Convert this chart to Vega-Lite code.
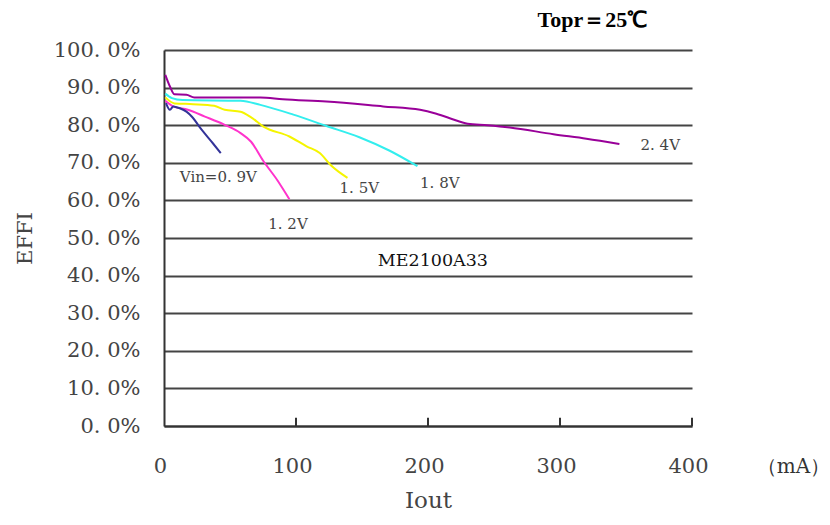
{
  "$schema": "https://vega.github.io/schema/vega-lite/v6.json",
  "width": 528,
  "height": 376,
  "autosize": "none",
  "padding": {"left": 164, "top": 50, "right": 138, "bottom": 99},
  "background": "white",
  "config": {
    "view": {"stroke": null},
    "axis": {"labelFont": "DejaVu Serif", "titleFont": "DejaVu Serif", "labelColor": "#444", "titleColor": "#444", "titleFontWeight": "normal"}
  },
  "datasets": {
    "curves": [
      {"s": "2.4V", "I": 1, "E": 93.4}, {"s": "2.4V", "I": 4.5, "E": 90.3}, {"s": "2.4V", "I": 8, "E": 88.2}, {"s": "2.4V", "I": 17, "E": 88.1}, {"s": "2.4V", "I": 23, "E": 87.4}, {"s": "2.4V", "I": 73, "E": 87.4}, {"s": "2.4V", "I": 90, "E": 86.9}, {"s": "2.4V", "I": 123, "E": 86.3}, {"s": "2.4V", "I": 166, "E": 85.0}, {"s": "2.4V", "I": 194, "E": 84.1}, {"s": "2.4V", "I": 205, "E": 83.2}, {"s": "2.4V", "I": 217, "E": 81.8}, {"s": "2.4V", "I": 230, "E": 80.4}, {"s": "2.4V", "I": 245, "E": 80.0}, {"s": "2.4V", "I": 262, "E": 79.4}, {"s": "2.4V", "I": 295, "E": 77.6}, {"s": "2.4V", "I": 320, "E": 76.4}, {"s": "2.4V", "I": 345, "E": 75.0},
      {"s": "1.8V", "I": 1, "E": 88.4}, {"s": "1.8V", "I": 6, "E": 87.2}, {"s": "1.8V", "I": 14, "E": 86.7}, {"s": "1.8V", "I": 58, "E": 86.5}, {"s": "1.8V", "I": 73, "E": 85.4}, {"s": "1.8V", "I": 98, "E": 82.8}, {"s": "1.8V", "I": 123, "E": 79.8}, {"s": "1.8V", "I": 148, "E": 76.8}, {"s": "1.8V", "I": 171, "E": 73.2}, {"s": "1.8V", "I": 192, "E": 69.1},
      {"s": "1.5V", "I": 1, "E": 87.4}, {"s": "1.5V", "I": 8, "E": 85.8}, {"s": "1.5V", "I": 22, "E": 85.6}, {"s": "1.5V", "I": 38, "E": 85.2}, {"s": "1.5V", "I": 46, "E": 84.1}, {"s": "1.5V", "I": 58, "E": 83.6}, {"s": "1.5V", "I": 66, "E": 82.1}, {"s": "1.5V", "I": 75, "E": 79.7}, {"s": "1.5V", "I": 95, "E": 77.0}, {"s": "1.5V", "I": 108, "E": 74.4}, {"s": "1.5V", "I": 118, "E": 72.6}, {"s": "1.5V", "I": 126, "E": 69.5}, {"s": "1.5V", "I": 139, "E": 66.0},
      {"s": "1.2V", "I": 1, "E": 86.5}, {"s": "1.2V", "I": 7, "E": 85.0}, {"s": "1.2V", "I": 18, "E": 84.1}, {"s": "1.2V", "I": 31, "E": 82.3}, {"s": "1.2V", "I": 46, "E": 80.1}, {"s": "1.2V", "I": 58, "E": 77.9}, {"s": "1.2V", "I": 66, "E": 75.6}, {"s": "1.2V", "I": 75, "E": 70.6}, {"s": "1.2V", "I": 86, "E": 65.3}, {"s": "1.2V", "I": 95, "E": 60.3},
      {"s": "0.9V", "I": 1.5, "E": 85.9}, {"s": "0.9V", "I": 4.5, "E": 84.1}, {"s": "0.9V", "I": 7, "E": 85.0}, {"s": "0.9V", "I": 12, "E": 84.5}, {"s": "0.9V", "I": 17, "E": 83.6}, {"s": "0.9V", "I": 21, "E": 82.3}, {"s": "0.9V", "I": 28.5, "E": 78.8}, {"s": "0.9V", "I": 37, "E": 75.2}, {"s": "0.9V", "I": 43, "E": 72.6}
    ],
    "labels": [
      {"t": "Vin=0. 9V", "I": 12, "E": 66.3, "k": "curve"},
      {"t": "1. 2V", "I": 79, "E": 53.8, "k": "curve"},
      {"t": "1. 5V", "I": 133, "E": 63.4, "k": "curve"},
      {"t": "1. 8V", "I": 194, "E": 64.7, "k": "curve"},
      {"t": "2. 4V", "I": 361, "E": 74.8, "k": "curve"},
      {"t": "ME2100A33", "I": 162, "E": 43.8, "k": "model"},
      {"t": "（mA）", "I": 449, "E": -10.8, "k": "unit"}
    ],
    "heading": [{"t": "Topr＝25℃", "I": 283, "E": 108.0}],
    "xticks": [{"I": 100, "E": 0}, {"I": 200, "E": 0}, {"I": 300, "E": 0}, {"I": 400, "E": 0}]
  },
  "encoding": {
    "x": {
      "field": "I", "type": "quantitative",
      "scale": {"domain": [0, 400], "nice": false},
      "axis": {
        "values": [0, 100, 200, 300, 400],
        "title": "Iout", "titleFontSize": 23, "titlePadding": 13,
        "labelFontSize": 21, "labelPadding": 29, "labelOffset": -4, "labelFlush": false,
        "grid": false, "domainColor": "#333", "domainWidth": 2,
        "ticks": false
      }
    },
    "y": {
      "field": "E", "type": "quantitative",
      "scale": {"domain": [0, 100], "nice": false},
      "axis": {
        "values": [0, 10, 20, 30, 40, 50, 60, 70, 80, 90, 100],
        "labelExpr": "replace(format(datum.value, '.1f'), '.', '. ') + '%'",
        "labelOverlap": false,
        "title": "EFFI", "titleFontSize": 21, "titleX": -129,
        "labelFontSize": 21, "labelPadding": 24,
        "ticks": false,
        "grid": true, "gridColor": "#444", "gridWidth": 2,
        "domainColor": "#333", "domainWidth": 2
      }
    }
  },
  "layer": [
    {
      "data": {"name": "curves"},
      "mark": {"type": "line", "strokeWidth": 2, "interpolate": "monotone"},
      "encoding": {
        "color": {
          "field": "s", "type": "nominal",
          "scale": {"domain": ["2.4V", "1.8V", "1.5V", "1.2V", "0.9V"], "range": ["#990099", "#33EEEE", "#F5F500", "#FF33CC", "#333399"]},
          "legend": null
        }
      }
    },
    {
      "data": {"name": "xticks"},
      "mark": {"type": "rule", "color": "#333", "strokeWidth": 2},
      "encoding": {
        "y2": {"datum": 2.2}
      }
    },
    {
      "data": {"name": "labels"},
      "mark": {"type": "text", "align": "left", "baseline": "middle", "font": "DejaVu Serif"},
      "encoding": {
        "text": {"field": "t"},
        "size": {"field": "k", "type": "nominal", "scale": {"domain": ["curve", "model", "unit"], "range": [15, 20, 21]}, "legend": null},
        "color": {"field": "k", "type": "nominal", "scale": {"domain": ["curve", "model", "unit"], "range": ["#444", "#111", "#333"]}, "legend": null}
      }
    },
    {
      "data": {"name": "heading"},
      "mark": {"type": "text", "align": "left", "baseline": "middle", "font": "Liberation Serif", "fontWeight": "bold", "fontSize": 22, "color": "black"},
      "encoding": {
        "text": {"field": "t"}
      }
    }
  ],
  "resolve": {"scale": {"color": "independent", "size": "independent"}}
}
